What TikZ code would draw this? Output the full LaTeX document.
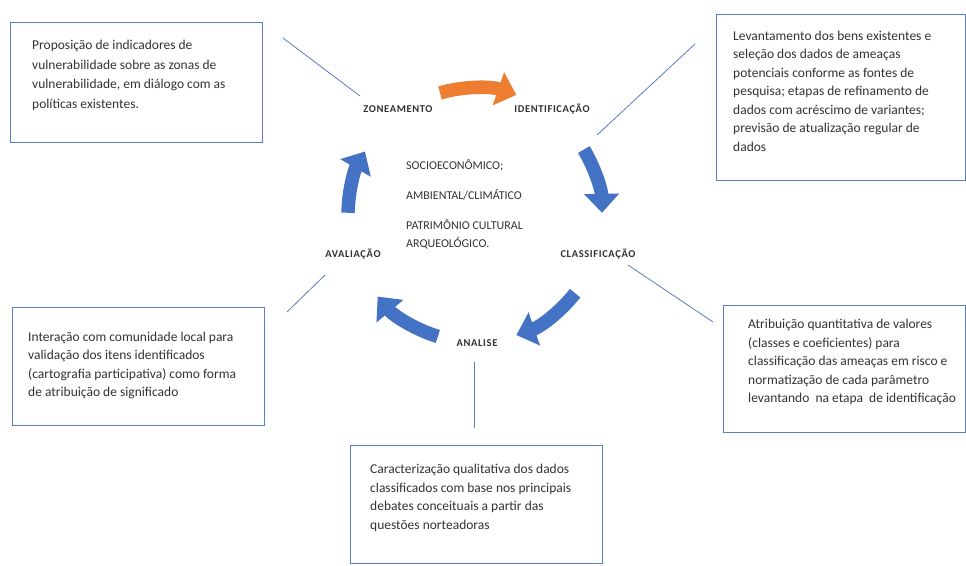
\documentclass[tikz,border=0pt]{standalone}
\usepackage{fontspec}
\setmainfont{Carlito}
\usetikzlibrary{arrows.meta,calc}
\definecolor{orangeA}{HTML}{ED7D31}
\definecolor{blueA}{HTML}{4472C4}
\definecolor{lineC}{HTML}{5A7DC0}
\definecolor{txtC}{HTML}{333333}
\begin{document}
\begin{tikzpicture}[x=1pt,y=1pt,
  box/.style={draw=lineC, line width=0.9pt, anchor=north west, inner sep=0pt},
  btxt/.style={anchor=north west, align=left, inner sep=0pt, text=txtC, font=\fontsize{13.5}{18.5}\selectfont},
  lab/.style={text=txtC, font=\fontsize{10.5}{12}\selectfont\bfseries\addfontfeatures{LetterSpace=6}, inner sep=1pt},
  conn/.style={draw=lineC, line width=0.8pt},
  blk/.style={line width=13.5pt, -{Triangle[width=34pt,length=19pt]}},
]
\useasboundingbox (0,0) rectangle (966,565);
\fill[white] (0,0) rectangle (966,565);

% boxes
\node[box, minimum width=252pt, minimum height=120pt] (b1) at (10,543) {};
\node[box, minimum width=249pt, minimum height=166pt] (b2) at (716,551) {};
\node[box, minimum width=252pt, minimum height=118pt] (b3) at (12,258) {};
\node[box, minimum width=242pt, minimum height=127pt] (b4) at (723,260) {};
\node[box, minimum width=252pt, minimum height=118pt] (b5) at (350,120) {};

% box texts
\node[btxt, font=\fontsize{13.5}{19.5}\selectfont] (t1) at (32,525) {Proposição de indicadores de\\vulnerabilidade sobre as zonas de\\vulnerabilidade, em diálogo com as\\políticas existentes.};
\node[btxt] (t2) at (733,534.5) {Levantamento dos bens existentes e\\seleção dos dados de ameaças\\potenciais conforme as fontes de\\pesquisa; etapas de refinamento de\\dados com acréscimo de variantes;\\previsão de atualização regular de\\dados};
\node[btxt] (t3) at (28,233.5) {Interação com comunidade local para\\validação dos itens identificados\\(cartografia participativa) como forma\\de atribuição de significado};
\node[btxt] (t4) at (748,246) {Atribuição quantitativa de valores\\(classes e coeficientes) para\\classificação das ameaças em risco e\\normatização de cada parâmetro\\levantando\ \ na etapa\ \ de identificação};
\node[btxt] (t5) at (370,101) {Caracterização qualitativa dos dados\\classificados com base nos principais\\debates conceituais a partir das\\questões norteadoras};

% centre text
\node[btxt, font=\fontsize{12}{18}\selectfont] (ct) at (406,405.5) {SOCIOECONÔMICO;\\[12pt]AMBIENTAL/CLIMÁTICO\\[12pt]PATRIMÔNIO CULTURAL\\ARQUEOLÓGICO.};

% stage labels
\node[lab] (zon) at (398,456) {ZONEAMENTO};
\node[lab] (ide) at (552,456) {IDENTIFICAÇÃO};
\node[lab] (cla) at (598,311) {CLASSIFICAÇÃO};
\node[lab] (ava) at (353,311) {AVALIAÇÃO};
\node[lab] (ana) at (477,222) {ANALISE};

% connectors
\coordinate (l1a) at (283,527); \coordinate (l1b) at (360,469);
\coordinate (l2a) at (695,521); \coordinate (l2b) at (597,430);
\coordinate (l3a) at (287,253); \coordinate (l3b) at (325,290);
\coordinate (l4a) at (628,300); \coordinate (l4b) at (713,243);
\coordinate (l5a) at (474,203); \coordinate (l5b) at (474,137);
\draw[conn] (l1a) -- (l1b);
\draw[conn] (l2a) -- (l2b);
\draw[conn] (l3a) -- (l3b);
\draw[conn] (l4a) -- (l4b);
\draw[conn] (l5a) -- (l5b);

% cycle arrows
\coordinate (c) at (475,350);
\draw[blk, draw=orangeA, fill=orangeA] (c) ++(106:127) arc[start angle=106, end angle=71, radius=127];
\draw[blk, draw=blueA, fill=blueA] (c) ++(31:127) arc[start angle=31, end angle=1, radius=127];
\draw[blk, draw=blueA, fill=blueA] (c) ++(-38:127) arc[start angle=-38, end angle=-71, radius=127];
\draw[blk, draw=blueA, fill=blueA] (c) ++(-107:127) arc[start angle=-107, end angle=-140, radius=127];
\draw[blk, draw=blueA, fill=blueA] (c) ++(179:127) arc[start angle=179, end angle=150, radius=127];
\end{tikzpicture}
\end{document}
